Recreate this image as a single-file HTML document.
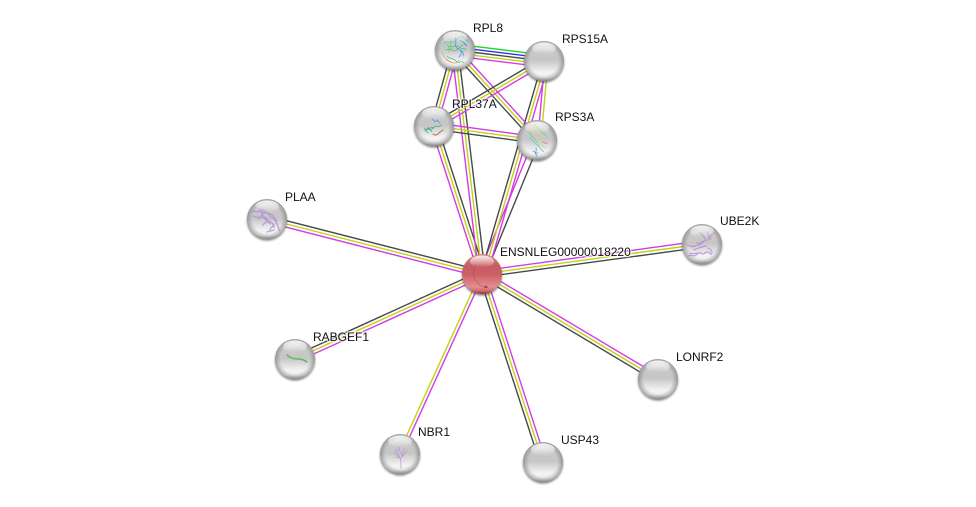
<!DOCTYPE html>
<html><head><meta charset="utf-8"><style>
html,body{margin:0;padding:0;background:#fff;width:976px;height:507px;overflow:hidden}
svg{display:block}
text{font-family:"Liberation Sans",sans-serif;font-size:12px;fill:#111;stroke:rgba(255,255,255,.65);stroke-width:2.5px;paint-order:stroke}
.d{fill:none;stroke-width:.7;filter:url(#t)}
.p{fill:none;stroke:#b48fd8;stroke-width:1.3;stroke-linecap:round;stroke-dasharray:2 1;filter:url(#t);opacity:.85}
</style></head><body>
<svg width="976" height="507" viewBox="0 0 976 507" xmlns="http://www.w3.org/2000/svg">
<defs>
<linearGradient id="g" x1="0" y1="0" x2="0" y2="1">
<stop offset="0" stop-color="#dcdcdc"/><stop offset=".3" stop-color="#c8c8c8"/><stop offset=".48" stop-color="#c6c6c6"/><stop offset=".78" stop-color="#f3f3f3"/><stop offset=".9" stop-color="#f0f0f0"/><stop offset="1" stop-color="#b0b0b0"/>
</linearGradient>
<linearGradient id="r" x1="0" y1="0" x2="0" y2="1">
<stop offset="0" stop-color="#d88a8c"/><stop offset=".3" stop-color="#c85c62"/><stop offset=".5" stop-color="#cb5f65"/><stop offset=".82" stop-color="#e48d8f"/><stop offset=".92" stop-color="#cf6c70"/><stop offset="1" stop-color="#8f3036"/>
</linearGradient>
<radialGradient id="m" cx=".5" cy=".5" r=".5">
<stop offset=".72" stop-color="#666" stop-opacity="0"/><stop offset="1" stop-color="#666" stop-opacity=".5"/>
</radialGradient>
<linearGradient id="h" x1="0" y1="0" x2="0" y2="1">
<stop offset="0" stop-color="#fff" stop-opacity=".85"/><stop offset="1" stop-color="#fff" stop-opacity="0"/>
</linearGradient>
<filter id="s" x="-30%" y="-30%" width="160%" height="160%"><feGaussianBlur stdDeviation="1.1"/></filter>
<filter id="t" x="-10%" y="-10%" width="120%" height="120%"><feGaussianBlur stdDeviation=".25"/></filter>
<g id="e" stroke-width="1.4" fill="none">
<line x1="0" x2="1" y1="-3.2" y2="-3.2" stroke="#484848"/>
<line x1="0" x2="1" y1="0" y2="0" stroke="#bed414"/>
<line x1="0" x2="1" y1="3.2" y2="3.2" stroke="#d63ae0"/>
</g>
<g id="i" stroke-width="1.4" fill="none">
<line x1="0" x2="1" y1="3.2" y2="3.2" stroke="#484848"/>
<line x1="0" x2="1" y1="0" y2="0" stroke="#bed414"/>
<line x1="0" x2="1" y1="-3.2" y2="-3.2" stroke="#d63ae0"/>
</g>
<g id="n">
<circle cy="1.6" r="20" fill="#444" opacity=".65" filter="url(#s)"/>
<circle r="20" fill="url(#g)"/>
<circle r="20" fill="url(#m)"/>
</g>
<g id="o">
<ellipse cx="0" cy="-12.500" rx="12" ry="6" fill="url(#h)"/>
</g>
</defs>

<!-- edges to centre -->
<use href="#e" transform="matrix(215 55 -.248 .969 267 219)"/>
<use href="#e" transform="matrix(-220 30 -.135 -.991 702 244)"/>
<use href="#e" transform="matrix(-176 -105 .512 -.859 658 379)"/>
<use href="#e" transform="matrix(-61 -188 .951 -.309 543 462)"/>
<use href="#e" transform="matrix(187 -85 .414 .910 295 359)"/>
<g transform="matrix(82 -180 .910 .415 400 454)" stroke-width="1.4">
<line x1="0" x2="1" y1="-1.600" y2="-1.600" stroke="#bed414"/>
<line x1="0" x2="1" y1="1.600" y2="1.600" stroke="#d63ae0"/>
</g>
<use href="#e" transform="matrix(48 148 -.951 .308 434 126)"/>
<use href="#e" transform="matrix(27 224 -.993 .120 455 50)"/>
<g transform="matrix(-55 134 -.925 -.380 537 140)" stroke-width="1.4">
<line x1="0" x2="1" y1="-3.200" y2="-3.200" stroke="#484848"/>
<line x1="0" x2="1" y1="3.200" y2="3.200" stroke="#d63ae0"/>
</g>
<use href="#e" transform="matrix(62 -213 .960 .280 484 274)"/>

<!-- cluster edges -->
<g transform="matrix(89 11 -.123 .992 455 50)" stroke-width="1.4">
<line x1="0" x2="1" y1="-6" y2="-6" stroke="#2fd02f"/>
<line x1="0" x2="1" y1="-3" y2="-3" stroke="#2438e0"/>
<line x1="0" x2="1" y1="0" y2="0" stroke="#484848"/>
<line x1="0" x2="1" y1="3" y2="3" stroke="#bed414"/>
<line x1="0" x2="1" y1="6" y2="6" stroke="#d63ae0"/>
</g>
<use href="#i" transform="matrix(-21 76 -.964 -.266 455 50)"/>
<use href="#i" transform="matrix(82 90 -.739 .673 455 50)"/>
<use href="#i" transform="matrix(-110 65 -.509 -.861 544 61)"/>
<use href="#i" transform="matrix(103 14 -.135 .991 434 126)"/>
<g transform="matrix(-7 79 -.996 -.088 544 61)" stroke-width="1.4">
<line x1="0" x2="1" y1="-4" y2="-4" stroke="#bed414"/>
<line x1="0" x2="1" y1="-.8" y2="-.8" stroke="#d63ae0"/>
</g>

<!-- nodes -->
<use href="#n" x="455" y="50"/>
<g class="d" stroke-linecap="round">
<path d="M444,44c4,-6 8,2 12,-4s8,-3 12,2M446,50c5,-3 7,3 11,0s4,-6 9,-5M447,56c3,4 6,1 9,5s5,-2 8,2M450,46c3,2 6,-2 9,1s5,0 7,3" stroke="#36c98c"/>
<path d="M455,38c3,4 -2,8 3,11s4,4 1,8M460,40c3,3 5,2 7,6M461,50c2,2 3,3 2,6" stroke="#2f8fe0"/>
<path d="M442,52c2,6 5,8 9,10s6,1 8,-2M446,60c3,1 5,3 8,3" stroke="#e8a060"/>
<path d="M452,40c-3,4 -2,6 0,10M447,44c2,3 3,5 2,8" stroke="#66cc44"/>
</g>
<use href="#o" x="455" y="50"/>

<use href="#n" x="544" y="61"/><use href="#o" x="544" y="61"/>

<use href="#n" x="434" y="126"/>
<g class="d" stroke-linecap="round">
<path d="M425,131c3,-4 5,1 8,-3s5,1 8,-3M426,128c3,2 6,-2 8,0M424,128l4,5M428,127l4,5" stroke="#3aa88c"/>
<path d="M432,119c2,2 3,3 5,2M437,120l3,3" stroke="#3f8fe0"/>
<path d="M433,134c2,2 4,1 6,-1s3,-2 4,-3" stroke="#b07840" stroke-width="1"/>
</g>
<use href="#o" x="434" y="126"/>

<use href="#n" x="537" y="140"/>
<g class="d" stroke-linecap="round">
<path d="M527,126c4,5 6,9 10,13s5,7 9,9M531,123c3,5 7,8 10,13M535,125c3,4 6,7 9,12" stroke="#e8d060"/>
<path d="M529,132c4,6 7,8 9,12s3,6 6,8M534,125c4,3 6,7 12,10M530,138c3,3 5,6 8,8" stroke="#50d0b0"/>
<path d="M536,148c1,4 -2,5 1,8M533,151c2,1 3,3 5,2" stroke="#5080d0"/>
<path d="M543,142c2,1 3,2 4,1" stroke="#e06050"/>
</g>
<use href="#o" x="537" y="140"/>

<use href="#n" x="267" y="219"/>
<g class="p">
<path d="M252,212c3,-2 5,1 8,-1s3,3 6,2 3,4 6,5 3,3 5,6 1,6 3,7"/>
<path d="M255,206c3,3 5,4 7,8s4,3 6,6 5,2 6,7M258,219c3,-2 4,-5 6,-7M263,225c2,-3 4,-3 6,-4M270,230c1,-3 3,-3 4,-6"/>
<path d="M260,209c4,0 6,4 10,5s4,5 7,7M253,216c3,1 5,1 7,2M262,217c3,2 6,4 8,7M267,232c2,-1 5,-1 7,-2"/>
</g>
<use href="#o" x="267" y="219"/>

<use href="#n" x="702" y="244"/>
<g class="p">
<path d="M688,256c4,-2 6,2 9,-2s5,2 8,-1 5,1 7,2M690,253c3,2 6,-1 8,1"/>
<path d="M692,247c4,-2 7,-1 10,-4s6,-2 8,-6 3,-3 5,-5M697,243c3,2 5,-2 8,-2M700,233c2,2 4,3 5,6M708,232c0,3 1,5 3,7"/>
<path d="M687,245c4,1 6,2 9,1M708,248c2,1 4,2 4,5M694,250c4,-2 8,-3 12,-4"/>
</g>
<use href="#o" x="702" y="244"/>

<use href="#n" x="295" y="359"/>
<path d="M287,355c3,3 7,4 11,4s6,1 9,3" fill="none" stroke="#5cba5c" stroke-width="1.500" stroke-linecap="round" filter="url(#t)"/>
<use href="#o" x="295" y="359"/>

<use href="#n" x="400" y="454"/>
<g class="p" style="stroke-width:.9">
<path d="M396,449c1,4 3,6 4,9s1,6 1,11M399,447c0,4 2,6 3,9M394,453c3,2 5,3 7,6M407,451c-2,2 -4,4 -5,7M404,449c0,3 -2,5 -2,8M396,457c2,0 3,1 5,1"/>
</g>
<use href="#o" x="400" y="454"/>

<use href="#n" x="543" y="462"/><use href="#o" x="543" y="462"/>
<use href="#n" x="658" y="379"/><use href="#o" x="658" y="379"/>

<circle cx="482" cy="275.600" r="20" fill="#444" opacity=".65" filter="url(#s)"/>
<circle cx="482" cy="274" r="20" fill="url(#r)"/>
<path d="M476,266c-4,5 -3,13 3,18s5,2 7,2" fill="none" stroke="#a83a50" stroke-width=".5"/>
<ellipse cx="486" cy="287" rx="1.800" ry="1" fill="#c03070"/>
<ellipse cx="476" cy="266" rx="1.500" ry="1.800" fill="#c85080"/>
<ellipse cx="482" cy="261.500" rx="12" ry="6" fill="url(#h)"/>

<!-- labels -->
<text x="473" y="32">RPL8</text>
<text x="562" y="43">RPS15A</text>
<text x="452" y="108">RPL37A</text>
<text x="555" y="121">RPS3A</text>
<text x="285" y="201">PLAA</text>
<text x="720" y="225">UBE2K</text>
<text x="500" y="256">ENSNLEG00000018220</text>
<text x="313" y="341">RABGEF1</text>
<text x="676" y="361">LONRF2</text>
<text x="418" y="436">NBR1</text>
<text x="561" y="444">USP43</text>
</svg>
</body></html>
